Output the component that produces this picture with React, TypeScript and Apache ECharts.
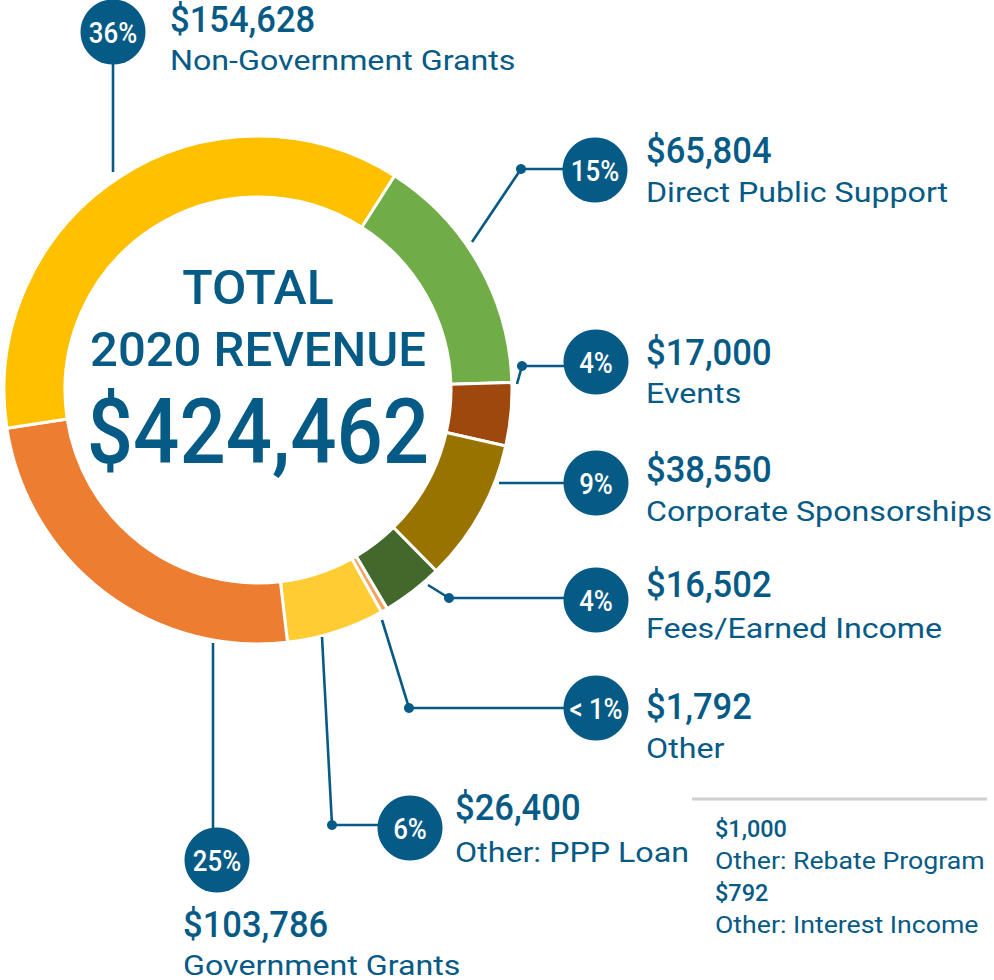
import React, { useEffect, useRef } from "react";
import * as echarts from "echarts";

// ---- data ----
const categories = [
  "Direct Public Support",
  "Events",
  "Corporate Sponsorships",
  "Fees/Earned Income",
  "Other",
  "Other: PPP Loan",
  "Government Grants",
  "Non-Government Grants",
];
const values = [65804, 17000, 38550, 16502, 1792, 26400, 103786, 154628];
const percentLabels = ["15%", "4%", "9%", "4%", "< 1%", "6%", "25%", "36%"];
const otherCategories = ["Other: Rebate Program", "Other: Interest Income"];
const otherValues = [1000, 792];
const titleLines = ["TOTAL", "2020 REVENUE"];

// ---- styles / layout ----
const sliceColors = ["#70ad47", "#9e480e", "#997300", "#43682b", "#f4a460", "#ffcd33", "#ed7d31", "#ffc000"];
const NAVY = "#065a86";
const FONT = "Roboto";
const CX = 258;
const CY = 390;

type Lay = {
  c: [number, number];
  tx: number;
  ty1: number;
  ty2: number;
  line: number[][];
  dot?: [number, number];
};
const layout: Lay[] = [
  { c: [595, 170], tx: 646, ty1: 151, ty2: 192, line: [[472, 242], [521, 169], [563, 169]], dot: [521, 169] },
  { c: [596, 362], tx: 646, ty1: 353, ty2: 393, line: [[517, 384], [522, 366], [564, 366]], dot: [522, 366] },
  { c: [596, 483], tx: 646, ty1: 470, ty2: 511, line: [[499, 483], [564, 483]] },
  { c: [596, 600], tx: 646, ty1: 585, ty2: 628, line: [[428, 585], [449, 598], [564, 598]], dot: [449, 598] },
  { c: [596, 708], tx: 646, ty1: 707, ty2: 748, line: [[382, 620], [409, 708], [564, 708]], dot: [409, 708] },
  { c: [410, 828], tx: 455, ty1: 808, ty2: 852, line: [[322, 637], [332, 825], [378, 825]], dot: [332, 825] },
  { c: [217, 860], tx: 183, ty1: 925, ty2: 965, line: [[213, 643], [213, 828]] },
  { c: [113, 32], tx: 170, ty1: 20, ty2: 60, line: [[113, 172], [113, 64]] },
];

const money = (v: number) => "$" + v.toLocaleString("en-US");
const total = values.reduce((a, b) => a + b, 0);

function txt(text: string, x: number, y: number, size: number, opts: any = {}) {
  return {
    type: "text",
    x,
    y,
    scaleX: opts.scaleX ?? 1,
    scaleY: opts.scaleY ?? 1,
    z: 10,
    style: {
      text,
      fill: opts.fill ?? NAVY,
      fontFamily: FONT,
      fontWeight: opts.weight ?? 500,
      fontSize: size,
      textAlign: opts.align ?? "left",
      textVerticalAlign: "middle",
    },
  };
}

export default function App() {
  const ref = useRef<HTMLDivElement>(null);
  useEffect(() => {
    if (!ref.current) return;
    const chart = echarts.init(ref.current, undefined, { renderer: "svg" });
    const graphics: any[] = [];
    layout.forEach((l, i) => {
      graphics.push({
        type: "polyline",
        z: 5,
        shape: { points: l.line },
        style: { stroke: NAVY, lineWidth: 2.6, fill: "none" },
      });
      if (l.dot) {
        graphics.push({ type: "circle", z: 6, shape: { cx: l.dot[0], cy: l.dot[1], r: 5 }, style: { fill: NAVY } });
      }
      graphics.push({ type: "circle", z: 7, shape: { cx: l.c[0], cy: l.c[1], r: 32.5 }, style: { fill: NAVY } });
      graphics.push(txt(percentLabels[i], l.c[0], l.c[1] + 1, 30, { fill: "#ffffff", align: "center", scaleX: 0.86 }));
      graphics.push(txt(money(values[i]), l.tx, l.ty1, 36, { scaleX: 0.96 }));
      graphics.push(txt(categories[i], l.tx, l.ty2, 28, { scaleX: 1.15, weight: 400 }));
    });
    // center title
    graphics.push(txt(titleLines[0], CX, 287, 49, { align: "center", scaleX: 1.02 }));
    graphics.push(txt(titleLines[1], CX, 349, 49, { align: "center", scaleX: 1.0 }));
    graphics.push(txt(money(total), CX, 432, 84, { align: "center", scaleX: 0.97, scaleY: 1.08 }));
    // other breakdown
    graphics.push({
      type: "line",
      shape: { x1: 692, y1: 799, x2: 987, y2: 799 },
      style: { stroke: "#d0d0d0", lineWidth: 3 },
    });
    otherCategories.forEach((c, j) => {
      graphics.push(txt(money(otherValues[j]), 715, 829 + j * 64, 23, { scaleX: 1.02 }));
      graphics.push(txt(c, 715, 861 + j * 64, 23, { scaleX: 1.16, weight: 400 }));
    });

    chart.setOption({
      animation: false,
      backgroundColor: "#ffffff",
      series: [
        {
          type: "pie",
          center: [CX, CY],
          radius: [193, 254],
          startAngle: 57.5,
          clockwise: true,
          silent: true,
          avoidLabelOverlap: false,
          label: { show: false },
          labelLine: { show: false },
          itemStyle: { borderColor: "#ffffff", borderWidth: 3 },
          emphasis: { disabled: true },
          data: categories.map((name, i) => ({
            name,
            value: values[i],
            itemStyle: { color: sliceColors[i] },
          })),
        },
      ],
      graphic: { elements: graphics },
    });
    return () => chart.dispose();
  }, []);
  return <div ref={ref} style={{ width: 994, height: 980, position: "absolute", left: 0, top: 0 }} />;
}
